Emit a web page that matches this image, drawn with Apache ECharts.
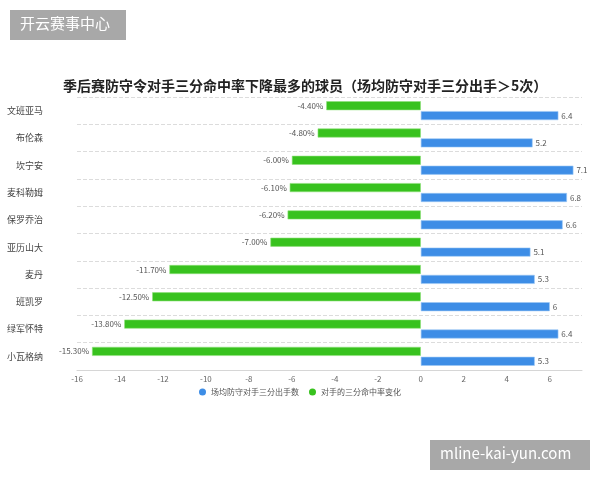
<!DOCTYPE html>
<html>
<head>
<meta charset="utf-8">
<script src="https://cdn.jsdelivr.net/npm/echarts@6/dist/echarts.min.js"></script>
<style>html,body{margin:0;padding:0;background:#fff}#c{width:600px;height:480px}</style>
</head>
<body>
<div id="c"></div>
<script>
const players = ['文班亚马','布伦森','坎宁安','麦科勒姆','保罗乔治','亚历山大','麦丹','班凯罗','绿军怀特','小瓦格纳'];
const attempts = [6.4, 5.2, 7.1, 6.8, 6.6, 5.1, 5.3, 6, 6.4, 5.3];
const pctChange = [-4.4, -4.8, -6.0, -6.1, -6.2, -7.0, -11.7, -12.5, -13.8, -15.3];
const xTicks = [-16, -14, -12, -10, -8, -6, -4, -2, 0, 2, 4, 6];
const seriesNames = ['场均防守对手三分出手数', '对手的三分命中率变化'];
const titleText = '季后赛防守令对手三分命中率下降最多的球员（场均防守对手三分出手＞5次）';

const FONT = '"Noto Sans CJK SC", "Noto Sans", sans-serif';
const chart = echarts.init(document.getElementById('c'), null, {renderer: 'canvas'});
chart.setOption({
  animation: false,
  textStyle: {fontFamily: FONT},
  title: {
    text: titleText, left: 58, top: 74,
    textStyle: {fontSize: 14, fontWeight: 'bold', color: '#222', fontFamily: FONT}
  },
  legend: {
    data: seriesNames, bottom: 79, left: 'center', icon: 'circle',
    itemWidth: 7, itemHeight: 7, itemGap: 10,
    itemStyle: {borderWidth: 0},
    textStyle: {fontSize: 8, color: '#555', fontFamily: FONT}
  },
  grid: {left: 77, right: 18, top: 97, bottom: 110, containLabel: false},
  xAxis: {
    type: 'value', min: xTicks[0], max: 7.5, interval: 2,
    axisLine: {show: true, lineStyle: {color: '#d6d6d6'}},
    axisTick: {show: false},
    splitLine: {show: false},
    axisLabel: {fontSize: 8, color: '#666', margin: 5, showMaxLabel: false, fontFamily: FONT}
  },
  yAxis: {
    type: 'category', inverse: true, data: players,
    axisLine: {show: false}, axisTick: {show: false},
    axisLabel: {fontSize: 9, color: '#444', margin: 34, fontFamily: FONT},
    splitLine: {show: true, lineStyle: {type: 'dashed', color: '#dcdcdc'}}
  },
  series: [
    {
      name: seriesNames[1], type: 'bar', data: pctChange, barWidth: 9, barGap: '10%',
      itemStyle: {color: '#38c21e', borderColor: '#8fe07a', borderWidth: 0.6},
      label: {show: true, position: 'left', distance: 3, fontSize: 8, color: '#555', fontFamily: FONT,
        formatter: p => p.value.toFixed(2) + '%'}
    },
    {
      name: seriesNames[0], type: 'bar', data: attempts, barWidth: 9,
      itemStyle: {color: '#3d8de6', borderColor: '#9cc8f5', borderWidth: 0.6},
      label: {show: true, position: 'right', distance: 3, fontSize: 8, color: '#555', fontFamily: FONT,
        formatter: p => String(p.value)}
    }
  ],
  graphic: [
    {type: 'rect', left: 10, top: 10, shape: {width: 116, height: 30}, style: {fill: '#a8a8a8'}},
    {type: 'text', left: 20, top: 16, style: {text: '开云赛事中心', fill: '#fff', font: '15px ' + FONT}},
    {type: 'rect', left: 430, top: 440, shape: {width: 160, height: 30}, style: {fill: '#a8a8a8'}},
    {type: 'text', left: 440, top: 446, style: {text: 'mline-kai-yun.com', fill: '#fff', font: '15px ' + FONT}}
  ]
});
</script>
</body>
</html>
